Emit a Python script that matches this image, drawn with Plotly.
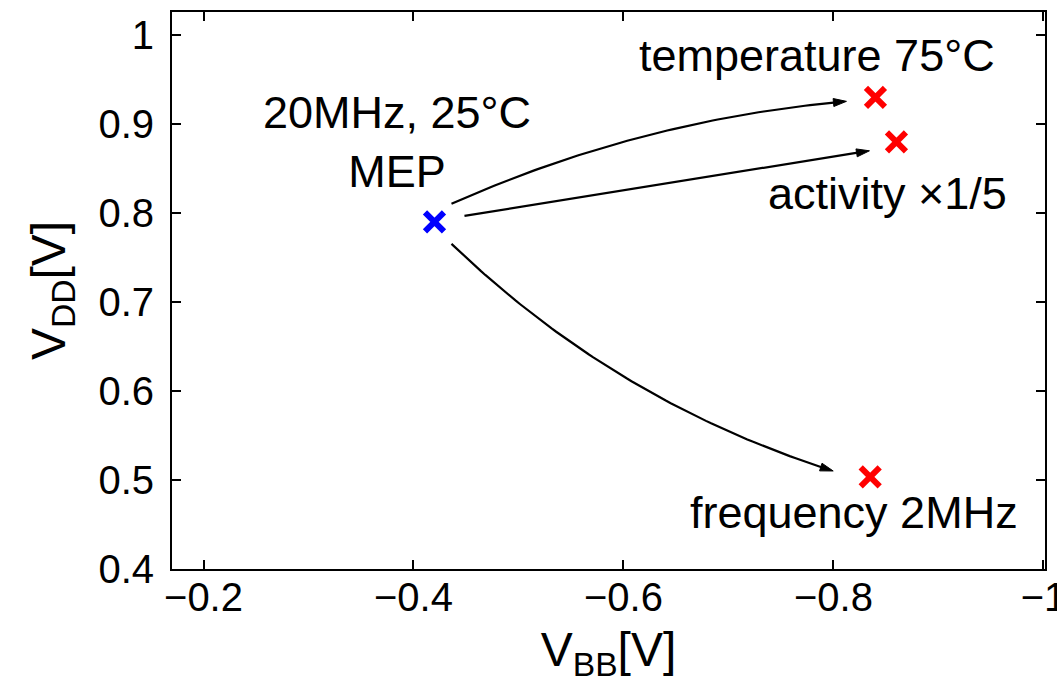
import numpy as np
import plotly.graph_objects as go

# ---------------- data ----------------
point_names = ["MEP", "temperature 75°C", "activity ×1/5", "frequency 2MHz"]
vbb = [-0.42, -0.84, -0.86, -0.835]      # V_BB [V]
vdd = [0.79, 0.93, 0.88, 0.503]          # V_DD [V]
point_colors = ["#0000ff", "#ff0000", "#ff0000", "#ff0000"]
mep_label = "20MHz, 25°C<br>MEP"

x_tickvals = [-0.2, -0.4, -0.6, -0.8, -1.0]
x_ticktext = ["\u22120.2", "\u22120.4", "\u22120.6", "\u22120.8", "\u22121"]
y_tickvals = [0.4, 0.5, 0.6, 0.7, 0.8, 0.9, 1.0]
y_ticktext = ["0.4", "0.5", "0.6", "0.7", "0.8", "0.9", "1"]

# ---------------- geometry ----------------
FIG_W, FIG_H = 1057, 686
M_L, M_R, M_T, M_B = 172, 12, 12, 117
PW, PH = FIG_W - M_L - M_R, FIG_H - M_T - M_B
X_RANGE = [-0.17, -1.0015]
Y_RANGE = [0.3995, 1.026]


def to_px(x, y):
    px = M_L + (x - X_RANGE[0]) / (X_RANGE[1] - X_RANGE[0]) * PW
    py = M_T + (Y_RANGE[1] - y) / (Y_RANGE[1] - Y_RANGE[0]) * PH
    return np.array([px, py], dtype=float)


def to_data(px, py):
    x = X_RANGE[0] + (px - M_L) / PW * (X_RANGE[1] - X_RANGE[0])
    y = Y_RANGE[1] - (py - M_T) / PH * (Y_RANGE[1] - Y_RANGE[0])
    return x, y


# arrows from MEP to each other point: (target idx, start offset px, end offset px, bend px)
arrow_specs = [
    (1, (17, -18), (-29, 4), -17),
    (2, (30, -6), (-27, 9), 0),
    (3, (17, 22), (-37, -6), 26),
]

FONT = "Liberation Sans, Arial, Helvetica, sans-serif"

fig = go.Figure()

origin = to_px(vbb[0], vdd[0])
for idx, s_off, e_off, bend in arrow_specs:
    P0 = origin + np.array(s_off, dtype=float)
    P2 = to_px(vbb[idx], vdd[idx]) + np.array(e_off, dtype=float)
    chord = P2 - P0
    L = np.hypot(*chord)
    n = np.array([-chord[1], chord[0]]) / L
    C = (P0 + P2) / 2 + 2 * bend * n
    t = np.linspace(0, 1, 80)[:, None]
    tan = (P2 - C) / np.hypot(*(P2 - C))
    perp = np.array([-tan[1], tan[0]])
    head_len, head_half = 13.0, 4.0
    B = (1 - t) ** 2 * P0 + 2 * (1 - t) * t * C + t ** 2 * P2
    keep = np.hypot(*(B - P2).T) > head_len * 0.6
    B = B[keep]
    xs, ys = to_data(B[:, 0], B[:, 1])
    fig.add_trace(go.Scatter(x=xs, y=ys, mode="lines",
                             line=dict(color="black", width=2.2),
                             hoverinfo="skip", showlegend=False))
    base = P2 - tan * head_len
    tri = np.array([P2, base + perp * head_half, base - perp * head_half, P2])
    tx, ty = to_data(tri[:, 0], tri[:, 1])
    fig.add_trace(go.Scatter(x=tx, y=ty, mode="lines", fill="toself",
                             fillcolor="black", line=dict(color="black", width=1),
                             hoverinfo="skip", showlegend=False))

# markers
fig.add_trace(go.Scatter(
    x=vbb, y=vdd, mode="markers",
    marker=dict(symbol="x-thin", size=19, color=point_colors,
                line=dict(color=point_colors, width=6)),
    showlegend=False, hoverinfo="skip"))

# text labels (offset from points in pixels)
label_specs = [
    (0, mep_label, -37, 80),
    (1, point_names[1], -58, 42),
    (2, point_names[2], -9, -52),
    (3, point_names[3], -16, -36),
]
for idx, txt, dx, dy in label_specs:
    fig.add_annotation(x=vbb[idx], y=vdd[idx], text=txt, showarrow=False,
                       xshift=dx, yshift=dy, xanchor="center", yanchor="middle",
                       font=dict(family=FONT, size=45, color="black"))

axis_common = dict(
    showline=True, linecolor="black", linewidth=2, mirror="ticks",
    ticks="inside", ticklen=9, tickwidth=2, tickcolor="black",
    showgrid=False, zeroline=False, ticklabeloverflow="allow",
    automargin=False,
    tickfont=dict(family=FONT, size=40, color="black"),
)

fig.update_xaxes(range=X_RANGE, tickvals=x_tickvals, ticktext=x_ticktext,
                 ticklabelstandoff=-8,
                 title=dict(text="V<sub>BB</sub>[V]", standoff=14,
                            font=dict(family=FONT, size=48, color="black")),
                 **axis_common)
fig.update_yaxes(range=Y_RANGE, tickvals=y_tickvals, ticktext=y_ticktext,
                 ticklabelstandoff=8,
                 title=dict(text="V<sub>DD</sub>[V]", standoff=18,
                            font=dict(family=FONT, size=48, color="black")),
                 **axis_common)

fig.update_layout(
    width=FIG_W, height=FIG_H,
    margin=dict(l=M_L, r=M_R, t=M_T, b=M_B, pad=0, autoexpand=False),
    paper_bgcolor="white", plot_bgcolor="white",
    showlegend=False, hovermode=False,
)

fig.write_html("out.html")
